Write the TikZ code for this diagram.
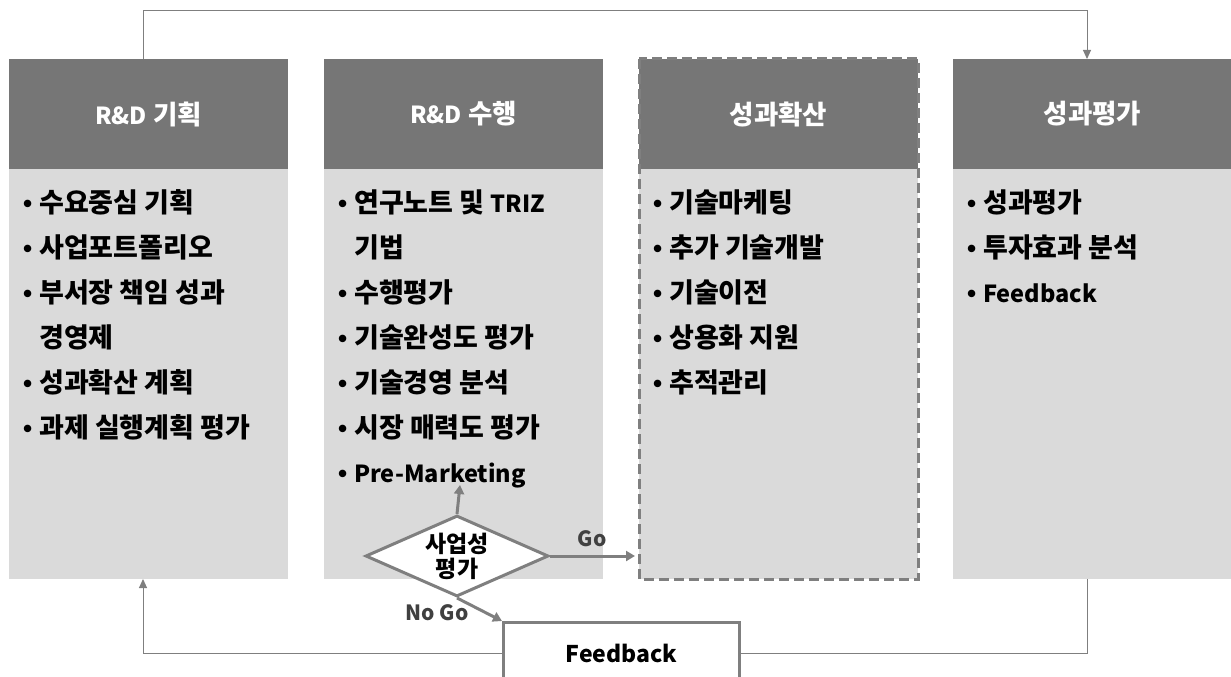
\documentclass[tikz,border=0pt]{standalone}
\usepackage{fontspec}
\setmainfont{Noto Sans CJK KR}
\newfontfamily\latinfont{Liberation Sans}
\usetikzlibrary{arrows.meta,shapes.geometric}
\definecolor{hdr}{HTML}{767676}
\definecolor{bodyc}{HTML}{DADADA}
\definecolor{lnc}{HTML}{7F7F7F}
\definecolor{lbl}{HTML}{404040}
\newcommand{\bul}{\makebox[15pt][l]{\hspace*{-1pt}\latinfont\fontsize{26}{26}\selectfont •}}
\newcommand{\ind}{\hspace*{15pt}}
\newcommand{\lat}[1]{{\fontsize{23.5}{30}\selectfont #1}}
\begin{document}
\begin{tikzpicture}[x=1pt,y=-1pt,
  hdrbox/.style={rectangle, fill=hdr, minimum width=279pt, minimum height=110pt, inner sep=0pt, outer sep=0pt, anchor=north west, text=white, font=\fontsize{26.5}{30}\selectfont\bfseries},
  bodybox/.style={rectangle, fill=bodyc, minimum width=279pt, minimum height=410pt, inner sep=0pt, outer sep=0pt, anchor=north west},
  item/.style={anchor=base west, inner sep=0pt, font=\fontsize{27}{30}\selectfont\bfseries},
  thinline/.style={draw=lnc, line width=1pt},
  thinarrow/.style={thinline, -{Triangle[length=9pt,width=8pt]}},
  thickarrow/.style={draw=lnc, line width=3pt, -{Triangle[length=9pt,width=10pt]}},
  dashbox/.style={draw=lnc, line width=3pt, dash pattern=on 10pt off 5pt},
  lbltext/.style={text=lbl, inner sep=0pt, font=\fontsize{21}{24}\selectfont\bfseries},
  decision/.style={diamond, draw=lnc, line width=3pt, fill=white, minimum width=183pt, minimum height=81pt, inner sep=0pt, aspect=2.26, align=center, font=\fontsize{23}{25}\selectfont\bfseries},
  fbbox/.style={rectangle, draw=lnc, line width=3pt, fill=white, minimum width=236pt, minimum height=62pt, anchor=north west, font=\fontsize{23}{30}\selectfont\bfseries}
]
\useasboundingbox (0,0) rectangle (1231,677);
\clip (0,0) rectangle (1231,677);

% columns
\node[hdrbox] (h1) at (9,59) {\lat{R\&D} 기획};
\node[bodybox] (b1) at (9,169) {};
\node[hdrbox] (h2) at (324,59) {\lat{R\&D} 수행};
\node[bodybox] (b2) at (324,169) {};
\node[hdrbox] (h3) at (639,59) {성과확산};
\node[bodybox] (b3) at (639,169) {};
\node[hdrbox] (h4) at (953,59) {성과평가};
\node[bodybox] (b4) at (953,169) {};
\draw[dashbox] (h3.north west) rectangle (b3.south east);

% column 1 items
\node[item] (a1) at (24,212) {\bul 수요중심 기획};
\node[item] (a2) at (24,257) {\bul 사업포트폴리오};
\node[item] (a3) at (24,302) {\bul 부서장 책임 성과};
\node[item] (a4) at (24,347) {\ind 경영제};
\node[item] (a5) at (24,392) {\bul 성과확산 계획};
\node[item] (a6) at (24,437) {\bul 과제 실행계획 평가};

% column 2 items
\node[item] (c1) at (339,212) {\bul 연구노트 및 \lat{TRIZ}};
\node[item] (c2) at (339,257) {\ind 기법};
\node[item] (c3) at (339,302) {\bul 수행평가};
\node[item] (c4) at (339,347) {\bul 기술완성도 평가};
\node[item] (c5) at (339,392) {\bul 기술경영 분석};
\node[item] (c6) at (339,437) {\bul 시장 매력도 평가};
\node[item] (c7) at (339,482) {\bul \lat{Pre-Marketing}};

% column 3 items
\node[item] (e1) at (654,212) {\bul 기술마케팅};
\node[item] (e2) at (654,257) {\bul 추가 기술개발};
\node[item] (e3) at (654,302) {\bul 기술이전};
\node[item] (e4) at (654,347) {\bul 상용화 지원};
\node[item] (e5) at (654,392) {\bul 추적관리};

% column 4 items
\node[item] (g1) at (968,212) {\bul 성과평가};
\node[item] (g2) at (968,257) {\bul 투자효과 분석};
\node[item] (g3) at (968,302) {\bul \lat{Feedback}};

% decision and feedback
\node[decision] (d) at (457,556) {사업성\\평가};
\node[fbbox] (fb) at (502,621) {Feedback};
\coordinate (pm) at (460,485);

\draw[thickarrow] (d.north) -- (pm);
\draw[thickarrow] (d.east) -- ([xshift=-4pt]d.east -| b3.west);
\draw[thickarrow] (d.south) -- (fb.north west);
\node[lbltext] (go) at (592,539) {Go};
\node[lbltext] (nogo) at (437,613) {No Go};

% feedback loops
\draw[thinarrow] ([xshift=-5.5pt]h1.north) -- ++(0,-48) -| ([xshift=-5.5pt]h4.north);
\draw[thinline] ([xshift=-5.5pt]b4.south) |- (fb.east);
\draw[thinarrow] (fb.west) -| ([xshift=-5.5pt]b1.south);
\end{tikzpicture}
\end{document}
